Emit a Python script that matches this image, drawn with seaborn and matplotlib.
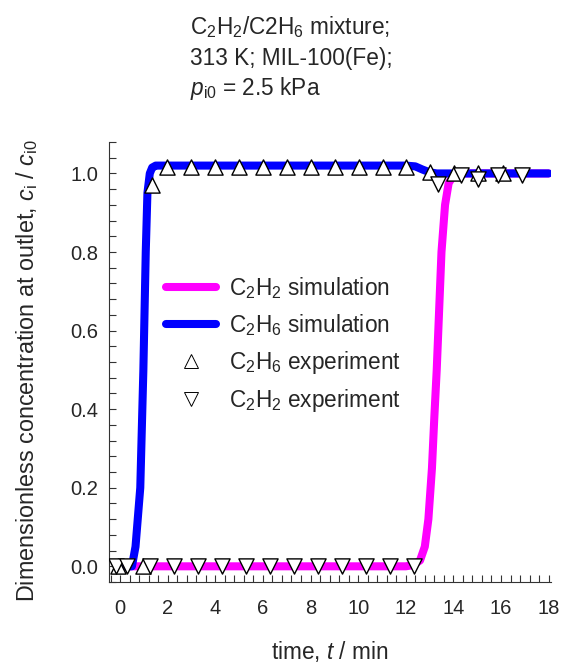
import numpy as np
import pandas as pd
import matplotlib
matplotlib.use("Agg")
import matplotlib.pyplot as plt
from matplotlib.ticker import MultipleLocator
from matplotlib.lines import Line2D
import seaborn as sns

# ---- data ----
c2h2_sim_t = [0.0, 12.0, 12.3, 12.6, 12.8, 12.95, 13.1, 13.2, 13.3, 13.4, 13.5, 13.65, 13.8, 14.0, 14.3, 18.0]
c2h2_sim_y = [0.0, 0.0, 0.003, 0.015, 0.05, 0.12, 0.25, 0.38, 0.5, 0.65, 0.8, 0.92, 0.975, 0.995, 1.0, 1.0]

c2h6_sim_t = [0.0, 0.5, 0.65, 0.85, 0.98, 1.08, 1.15, 1.25, 1.35, 1.5, 2.0, 12.0, 12.4, 12.7, 13.0, 13.3, 18.0]
c2h6_sim_y = [0.0, 0.0, 0.05, 0.2, 0.5, 0.8, 0.95, 1.0, 1.015, 1.02, 1.02, 1.02, 1.018, 1.01, 1.003, 1.0, 1.0]

c2h6_exp_t = [-0.07, 0.95, 1.33, 1.96, 2.96, 3.98, 4.99, 6.0, 7.0, 8.0, 9.01, 10.02, 11.03, 12.03, 13.03, 14.03, 15.04, 16.07]
c2h6_exp_y = [0.0, 0.0, 0.97, 1.016, 1.016, 1.016, 1.016, 1.016, 1.016, 1.016, 1.016, 1.016, 1.016, 1.016, 1.003, 1.0, 1.0, 1.0]

c2h2_exp_t = [-0.15, 0.28, 1.26, 2.26, 3.27, 4.28, 5.28, 6.29, 7.3, 8.3, 9.31, 10.31, 11.32, 12.33, 13.35, 14.33, 15.03, 15.86, 16.88]
c2h2_exp_y = [0.0, 0.0, 0.0, 0.0, 0.0, 0.0, 0.0, 0.0, 0.0, 0.0, 0.0, 0.0, 0.0, 0.0, 0.974, 0.995, 0.987, 0.995, 0.995]

x_ticks = [0, 2, 4, 6, 8, 10, 12, 14, 16, 18]
y_ticks = [0.0, 0.2, 0.4, 0.6, 0.8, 1.0]

sns.set_style("ticks")
plt.rcParams.update({
    "font.family": ["Liberation Sans", "DejaVu Sans"],
    "mathtext.fontset": "custom",
    "mathtext.rm": "Liberation Sans",
    "mathtext.it": "Liberation Sans:italic",
    "mathtext.bf": "Liberation Sans:bold",
    "font.size": 16,
})

fs = 16.3
fig = plt.figure(figsize=(5.67, 6.68), dpi=100)
ax = fig.add_axes([0.1928, 0.1287, 0.779, 0.6587])

magenta = "#FF00FF"
blue = "#0000FF"
lw = 5.8

sim2 = pd.DataFrame({"t": c2h2_sim_t, "y": c2h2_sim_y})
sim6 = pd.DataFrame({"t": c2h6_sim_t, "y": c2h6_sim_y})
exp6 = pd.DataFrame({"t": c2h6_exp_t, "y": c2h6_exp_y})
exp2 = pd.DataFrame({"t": c2h2_exp_t, "y": c2h2_exp_y})

sns.lineplot(data=sim2, x="t", y="y", ax=ax, color=magenta, lw=lw, sort=False,
             estimator=None, solid_capstyle="round", solid_joinstyle="round", legend=False)
sns.lineplot(data=sim6, x="t", y="y", ax=ax, color=blue, lw=lw, sort=False,
             estimator=None, solid_capstyle="round", solid_joinstyle="round", legend=False)
sns.scatterplot(data=exp6, x="t", y="y", ax=ax, marker="^", s=120, facecolor="white",
                edgecolor="black", linewidth=1.0, zorder=3, legend=False)
sns.scatterplot(data=exp2, x="t", y="y", ax=ax, marker="v", s=120, facecolor="white",
                edgecolor="black", linewidth=1.0, zorder=4, legend=False)

ax.set_xlim(-0.45, 18.1)
ax.set_ylim(-0.04, 1.08)
ax.set_xticks(x_ticks)
ax.set_xticklabels([str(v) for v in x_ticks])
ax.set_yticks(y_ticks)
ax.set_yticklabels([f"{v:.1f}" for v in y_ticks])
ax.xaxis.set_minor_locator(MultipleLocator(0.4))
ax.yaxis.set_minor_locator(MultipleLocator(0.04))
ax.tick_params(which="both", direction="in", length=5, width=0.8, color="#333333")
ax.tick_params(axis="x", which="major", pad=12, labelsize=14.5)
ax.tick_params(axis="y", which="major", pad=8, labelsize=14.5)
for s in ["top", "right"]:
    ax.spines[s].set_visible(False)
for s in ["left", "bottom"]:
    ax.spines[s].set_linewidth(0.8)
    ax.spines[s].set_color("#333333")

ax.set_xlabel("time, $t$ / min", fontsize=fs, labelpad=15)
ax.set_ylabel(r"Dimensionless concentration at outlet, $c_{\mathrm{i}}$ / $c_{\mathrm{i0}}$",
              fontsize=16.8, labelpad=16)
ax.yaxis.set_label_coords(-0.158, 0.48)

handles = [
    Line2D([], [], color=magenta, lw=lw, solid_capstyle="round"),
    Line2D([], [], color=blue, lw=lw, solid_capstyle="round"),
    Line2D([], [], ls="none", marker="^", ms=10, mfc="white", mec="black", mew=0.7),
    Line2D([], [], ls="none", marker="v", ms=10, mfc="white", mec="black", mew=0.7),
]
labels = [r"C$_2$H$_2$ simulation", r"C$_2$H$_6$ simulation",
          r"C$_2$H$_6$ experiment", r"C$_2$H$_2$ experiment"]
ax.legend(handles, labels, loc="upper left", bbox_to_anchor=(0.2928, 0.588),
          bbox_transform=fig.transFigure, frameon=False, borderpad=0, borderaxespad=0,
          handlelength=2.2, handletextpad=0.6, labelspacing=0.48, fontsize=fs)

title_lines = [r"C$_2$H$_2$/C2H$_6$ mixture;", "313 K; MIL-100(Fe);", r"$p_{\mathrm{i0}}$ = 2.5 kPa"]
for i, txt in enumerate(title_lines):
    fig.text(0.335, 1 - (27 + 31 * i) / 668, txt, ha="left", va="center", fontsize=fs)

fig.savefig("out.png", dpi=100)
